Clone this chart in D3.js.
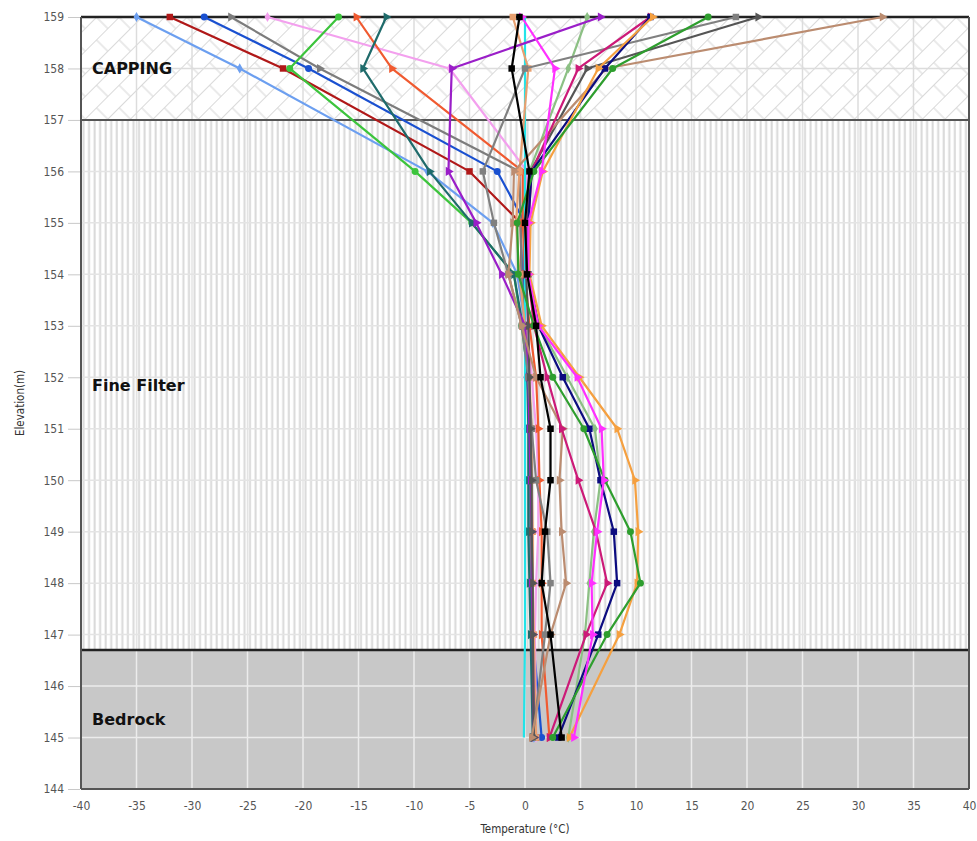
<!DOCTYPE html>
<html><head><meta charset="utf-8">
<script src="https://cdn.jsdelivr.net/npm/d3@7"></script>
<style>
html,body{margin:0;padding:0;background:#fff;}
svg{display:block;}
</style></head>
<body>
<svg id="chart" width="977" height="841"></svg>
<script>
// ---------------- data ----------------
const elevations = [159,158,156,155,154,153,152,151,150,149,148,147,145];
const xTicks = [-40,-35,-30,-25,-20,-15,-10,-5,0,5,10,15,20,25,30,35,40];
const yTicks = [144,145,146,147,148,149,150,151,152,153,154,155,156,157,158,159];

const layerNames = ["CAPPING","Fine Filter","Bedrock"];
const layerTops = [159,157,146.7];
const layerBottoms = [157,146.7,144];

const sLightBlue = [-35,-25.7,-8.8,-2.9,-0.7,0,0.3,0.4,0.4,0.5,0.5,0.6,0.8];
const sDarkRed   = [-32,-21.8,-5.0,-0.4,-0.3,0,0.3,0.5,0.5,0.6,0.6,0.7,1.0];
const sBlue      = [-28.9,-19.5,-2.5,0.0,-0.2,0.2,0.2,0.5,0.5,0.5,0.5,0.7,1.5];
const sGray      = [-26.5,-18.5,-0.5,-0.4,-0.3,0,0.3,0.4,0.5,0.5,0.6,0.7,0.8];
const sPink      = [-23.2,-6.8,0.2,0,0,0.2,0.6,1.0,1.2,1.2,1.0,0.9,1.0];
const sGreen     = [-16.8,-21.2,-9.9,-4.8,-1.0,-0.3,0.3,0.5,0.5,0.6,0.6,0.7,0.9];
const sOrangeRed = [-15.2,-12.0,-0.2,-0.2,0,0.4,1.0,1.2,1.3,1.5,1.5,1.5,2.2];
const sTeal      = [-12.5,-14.6,-8.6,-4.8,-1.0,-0.2,0.2,0.3,0.3,0.3,0.4,0.5,0.7];
const sBlack     = [-0.5,-1.2,0.4,0.0,0.2,1.0,1.4,2.3,2.3,1.8,1.5,2.3,3.3];
const sCyan      = [0,0,0,0,0,0,0,0,0,0,0,0,-0.1];
const sPeach     = [-1.1,0.3,-0.5,-0.8,-0.5,0,0.4,0.6,0.6,0.7,0.7,0.8,1.0];
const sSage      = [5.6,3.9,0.4,0.2,0.2,1.3,3.8,6.3,6.8,6.2,5.8,5.4,3.9];
const sPurple    = [6.8,-6.6,-6.9,-4.4,-2.1,0,0.3,0.4,0.5,0.6,0.6,0.7,0.8];
const sCrimson   = [11.3,4.8,0.6,0.3,0.3,0.8,2.0,3.3,4.8,6.4,7.4,5.5,2.2];
const sNavy      = [11.3,7.2,0.6,0.3,0.3,1.2,3.4,5.8,6.8,8.0,8.3,6.6,3.0];
const sOrange    = [11.5,6.6,1.6,0.5,0.4,1.5,4.9,8.3,9.9,10.2,10.1,8.5,4.0];
const sDarkGreen = [16.5,7.9,0.8,-0.7,-0.6,0.8,2.5,5.3,7.2,9.5,10.4,7.4,2.5];
const sGray2     = [19,0.0,-3.8,-2.8,-1.5,-0.3,0.3,0.6,1.0,2.0,2.3,1.8,0.7];
const sDarkGray  = [21,5.6,0.5,0.2,0.1,0.3,0.4,0.5,0.6,0.6,0.7,0.7,0.8];
const sBrown     = [32.2,7.3,-1.0,-1.1,-1.5,-0.3,1.0,3.4,3.1,3.3,3.7,2.3,0.6];
const sMagenta   = [-0.3,2.7,1.5,0.3,0.3,1.2,4.7,6.9,7.1,6.5,6.0,6.1,4.4];

const seriesValues = [sLightBlue,sDarkRed,sBlue,sGray,sPink,sGreen,sOrangeRed,sTeal,sCyan,sPeach,sSage,sPurple,sGray2,sDarkGray,sBrown,sCrimson,sNavy,sOrange,sDarkGreen,sMagenta,sBlack];
const seriesColors = ["#6c9ff0","#b01818","#1a50d0","#7c7c7c","#f3a0ee","#3cc43c","#f05a30","#1f6b6b","#22e3e8","#e8a070","#8cc084","#9a1ec8","#808080","#555555","#bb8c70","#cc1a78","#0c0c80","#f5a040","#2e9e2e","#ff30ff","#000000"];
const seriesMarkers = ["diamond","square","circle","triangle","diamond","circle","triangle","triangle","none","square","diamond","triangle","square","triangle","triangle","triangle","square","triangle","circle","triangle","square"];

// ---------------- chart ----------------
const svg = d3.select("#chart");
const L = 81, R = 969, T = 17, B = 789;
const x = d3.scaleLinear().domain([-40,40]).range([L,R]);
const y = d3.scaleLinear().domain([144,159]).range([B,T]);

const defs = svg.append("defs");
// capping: diagonal brick pattern
const brick = defs.append("pattern").attr("id","brick").attr("patternUnits","userSpaceOnUse")
  .attr("width",32).attr("height",32).attr("patternTransform","rotate(-45)");
brick.append("rect").attr("width",32).attr("height",32).attr("fill","#fff");
const bp = "M0,0.5H32 M0,16.5H32 M8,0V16 M24,16V32";
brick.append("path").attr("d",bp).attr("stroke","#d9d9d9").attr("stroke-width",1.1).attr("fill","none");
// fine filter: vertical stripes
const stripe = defs.append("pattern").attr("id","stripe").attr("patternUnits","userSpaceOnUse")
  .attr("width",(x(1)-x(0))/2).attr("height",10).attr("x",L);
stripe.append("rect").attr("width",(x(1)-x(0))/2).attr("height",10).attr("fill","#fff");
stripe.append("rect").attr("x",1.5).attr("width",2).attr("height",10).attr("fill","#d9d9d9");

const fills = ["url(#brick)","url(#stripe)","#c8c8c8"];
layerNames.forEach((n,i)=>{
  svg.append("rect").attr("x",L).attr("y",y(layerTops[i])).attr("width",R-L)
    .attr("height",y(layerBottoms[i])-y(layerTops[i])).attr("fill",fills[i]);
});

// grid lines
const gridColors = ["#dcdcdc","#e4e4e4","#ececec"];
layerNames.forEach((n,i)=>{
  const g = svg.append("g");
  const y0 = y(layerTops[i]), y1 = y(layerBottoms[i]);
  xTicks.forEach(t=>{
    g.append("line").attr("x1",x(t)).attr("x2",x(t)).attr("y1",y0).attr("y2",y1)
      .attr("stroke",gridColors[i]).attr("stroke-width",1.5);
  });
  yTicks.filter(t=>t<layerTops[i] && t>layerBottoms[i]).forEach(t=>{
    g.append("line").attr("x1",L).attr("x2",R).attr("y1",y(t)).attr("y2",y(t))
      .attr("stroke",gridColors[i]).attr("stroke-width",1.5);
  });
});

// layer boundaries and frame
svg.append("line").attr("x1",L).attr("x2",R).attr("y1",y(159)).attr("y2",y(159)).attr("stroke","#222").attr("stroke-width",2.5);
svg.append("line").attr("x1",L).attr("x2",R).attr("y1",y(157)).attr("y2",y(157)).attr("stroke","#555").attr("stroke-width",2);
svg.append("line").attr("x1",L).attr("x2",R).attr("y1",y(146.7)).attr("y2",y(146.7)).attr("stroke","#222").attr("stroke-width",2.5);
svg.append("line").attr("x1",L).attr("x2",R).attr("y1",B).attr("y2",B).attr("stroke","#555").attr("stroke-width",2);
svg.append("line").attr("x1",L).attr("x2",L).attr("y1",T).attr("y2",B).attr("stroke","#555").attr("stroke-width",2);
svg.append("line").attr("x1",R).attr("x2",R).attr("y1",T).attr("y2",B).attr("stroke","#555").attr("stroke-width",2);

// layer labels
const labelElev = [158,151.85,145.35];
layerNames.forEach((n,i)=>{
  svg.append("text").attr("x",92).attr("y",y(labelElev[i])).attr("dy","0.35em")
    .attr("font-family","DejaVu Sans, Verdana, sans-serif").attr("font-weight","bold")
    .attr("font-size",16).attr("fill","#111").text(n);
});

// axes
const yAxis = d3.axisLeft(y).tickValues(yTicks).tickSize(12).tickPadding(4).tickFormat(d=>String(d));
const ga = svg.append("g").attr("transform",`translate(${L-1},0)`).call(yAxis);
ga.select(".domain").remove();
ga.selectAll(".tick line").attr("stroke","#c8c8c8");
ga.selectAll("text").attr("fill","#555").attr("font-size",12).attr("font-family","Liberation Sans Narrow, DejaVu Sans Condensed, Arial, sans-serif");

const xAxis = d3.axisBottom(x).tickValues(xTicks).tickSize(0).tickPadding(12).tickFormat(d=>String(d));
const gx = svg.append("g").attr("transform",`translate(0,${B})`).call(xAxis);
gx.select(".domain").remove();
gx.selectAll("text").attr("fill","#555").attr("font-size",12).attr("font-family","Liberation Sans Narrow, DejaVu Sans Condensed, Arial, sans-serif");

svg.append("text").attr("x",(L+R)/2).attr("y",833).attr("text-anchor","middle")
  .attr("font-family","DejaVu Sans Condensed, Arial, sans-serif").attr("font-size",11.5).attr("fill","#333")
  .text("Temperature (°C)");
svg.append("text").attr("transform",`translate(24,${(T+B)/2}) rotate(-90)`).attr("text-anchor","middle")
  .attr("font-family","DejaVu Sans Condensed, Arial, sans-serif").attr("font-size",11.5).attr("fill","#333")
  .text("Elevation(m)");

// series
const line = d3.line().x(d=>x(d.v)).y(d=>y(d.e));
const symType = {diamond:d3.symbolDiamond, square:d3.symbolSquare, circle:d3.symbolCircle, triangle:d3.symbolTriangle};
const symSize = {diamond:30, square:42, circle:38, triangle:36};
seriesValues.forEach((vals,i)=>{
  const pts = vals.map((v,j)=>({v:v,e:elevations[j]}));
  const g = svg.append("g");
  g.append("path").datum(pts).attr("d",line).attr("fill","none")
    .attr("stroke",seriesColors[i]).attr("stroke-width",2.2).attr("stroke-linejoin","round");
  const m = seriesMarkers[i];
  if (m !== "none") {
    g.selectAll("path.m").data(pts).enter().append("path").attr("class","m")
      .attr("d",d3.symbol().type(symType[m]).size(symSize[m]))
      .attr("transform",d=>`translate(${x(d.v)},${y(d.e)})` + (m==="triangle"?" rotate(90)":""))
      .attr("fill",seriesColors[i]);
  }
});
</script>
</body></html>
